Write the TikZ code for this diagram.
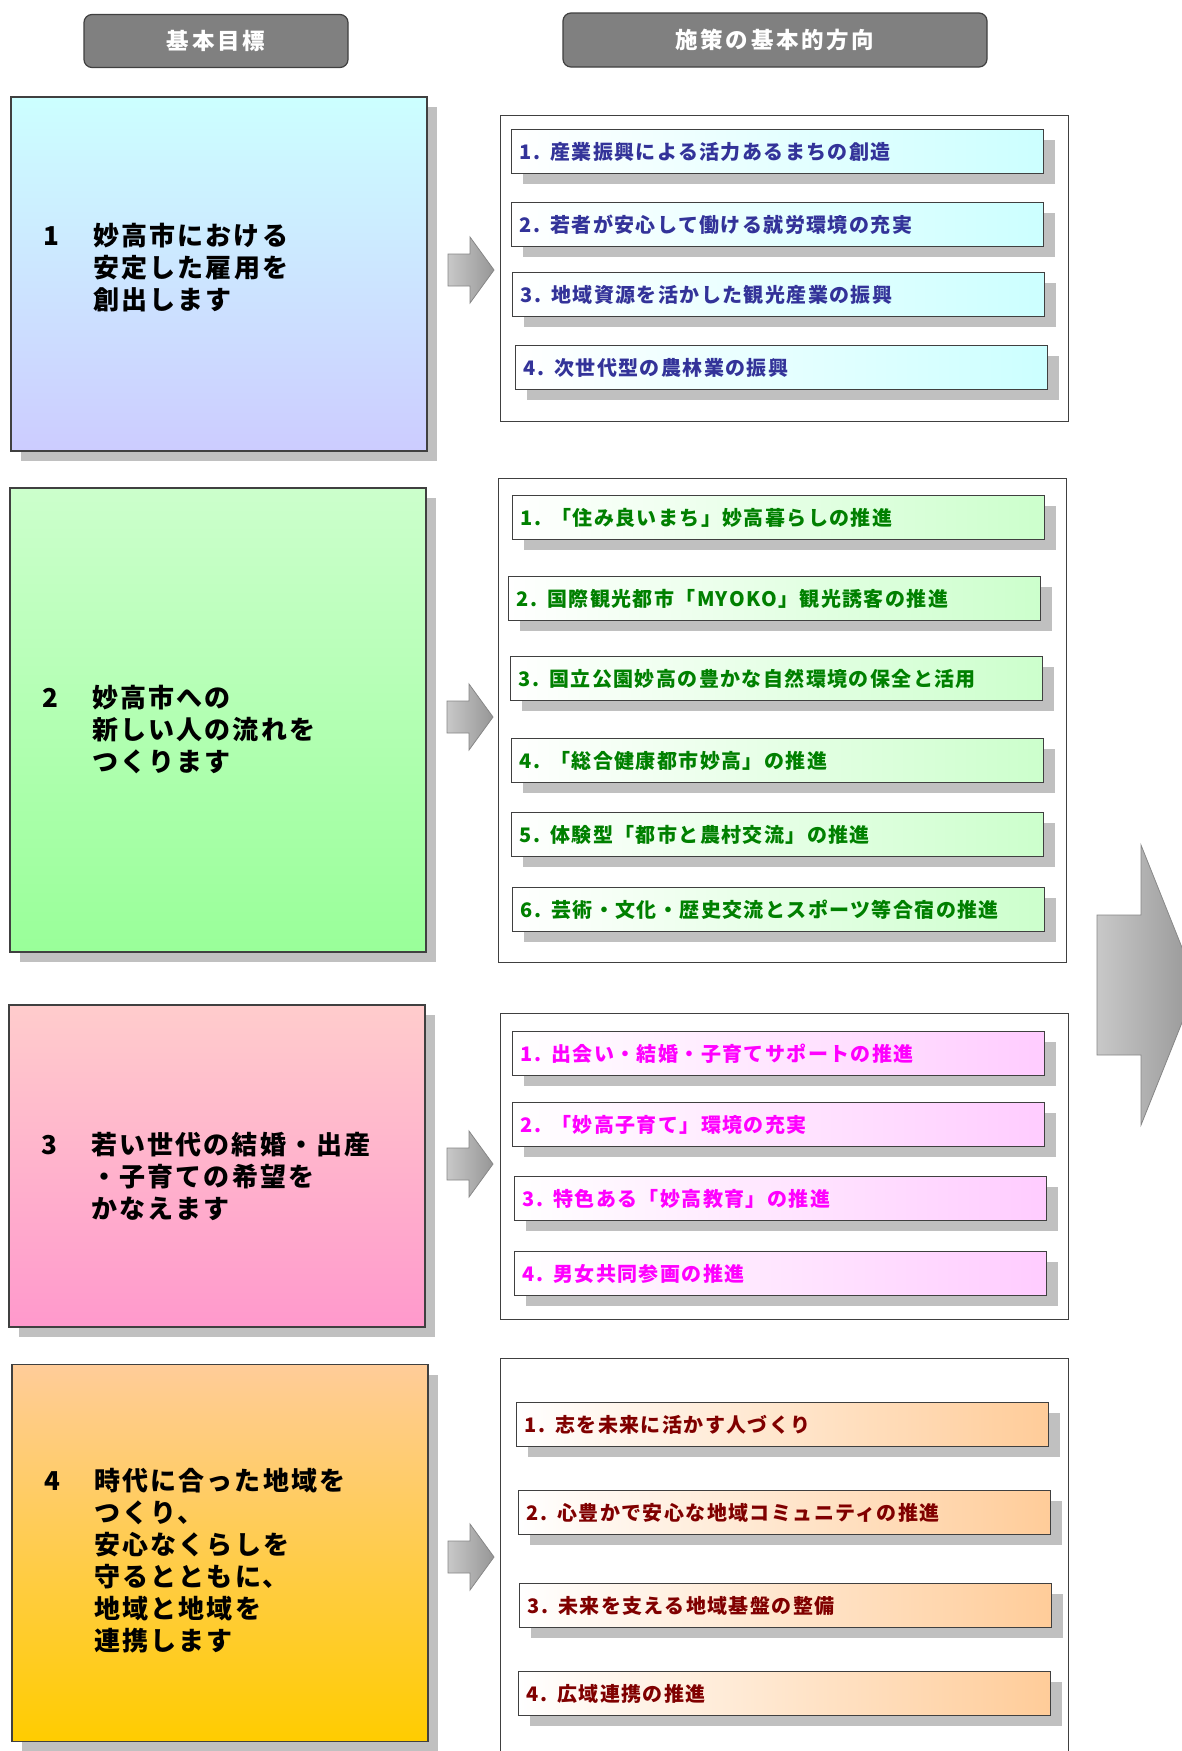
\documentclass[tikz,border=0pt]{standalone}
\usepackage{fontspec}
\setmainfont{Noto Sans CJK JP}
\usepackage{tikz}
\usepackage{xcolor}
\usetikzlibrary{shadows}
\definecolor{framegray}{RGB}{64, 64, 64}
\definecolor{shadowgray}{RGB}{192, 192, 192}
\definecolor{headgray}{RGB}{128, 128, 128}
\definecolor{arrowlight}{RGB}{200, 200, 200}
\definecolor{arrowdark}{RGB}{150, 150, 150}
\definecolor{arrowedge}{RGB}{135, 135, 135}
\definecolor{textblue}{RGB}{51, 51, 153}
\definecolor{textgreen}{RGB}{0, 128, 0}
\definecolor{textpink}{RGB}{255, 0, 255}
\definecolor{textbrown}{RGB}{128, 0, 0}
\definecolor{itemblue}{RGB}{204, 255, 255}
\definecolor{itemgreen}{RGB}{204, 255, 204}
\definecolor{itempink}{RGB}{255, 204, 255}
\definecolor{itemorange}{RGB}{255, 204, 153}

\newcommand{\goalfont}{\fontsize{26}{32}\selectfont\bfseries\addfontfeature{LetterSpace=8}}
\newcommand{\itemfont}{\fontsize{20}{23}\selectfont\bfseries\addfontfeature{LetterSpace=7}\spaceskip=0.5pt}
\newcommand{\headfont}{\fontsize{22.5}{26}\selectfont\bfseries\addfontfeature{LetterSpace=12}}
\newcommand{\goallines}[2]{\makebox[50pt][l]{#1}\begin{tabular}[t]{@{}l@{}}#2\end{tabular}}

\tikzset{
    header/.style={draw=framegray, line width=1.2pt, fill=headgray, rounded corners=8pt, text=white, font=\headfont},
    goalbox/.style={draw=framegray, line width=1.2pt, drop shadow={shadow xshift=10pt, shadow yshift=-10pt, fill=shadowgray, opacity=1}, minimum width=416pt},
    goaltext/.style={anchor=west, xshift=33pt, inner sep=0pt, align=left, font=\goalfont},
    dirframe/.style={draw=framegray, line width=1.2pt, fill=white, anchor=north west, minimum width=568pt, inner sep=0pt},
    itembox/.style={draw=framegray, line width=1.2pt, drop shadow={shadow xshift=11pt, shadow yshift=-10pt, fill=shadowgray, opacity=1}, anchor=north west, minimum height=44pt, inner xsep=8pt, text width=516pt, align=left, font=\itemfont, left color=white, right color=#1},
    smallarrow/.pic={\shade[draw=arrowedge, line width=0.8pt, left color=arrowlight, right color=arrowdark] (0,-16) -- (22,-16) -- (22,-33) -- (46,0) -- (22,33) -- (22,16) -- (0,16) -- cycle;},
    bigarrow/.pic={\shade[draw=arrowedge, line width=0.8pt, left color=arrowlight, right color=arrowdark] (0,-70) -- (44,-70) -- (44,-140) -- (100,0) -- (44,140) -- (44,70) -- (0,70) -- cycle;}
}

\begin{document}
\begin{tikzpicture}[x=1pt, y=-1pt]
    \path[use as bounding box, fill=white] (0,0) rectangle (1181,1751);

    % Column headers
    \node[header, minimum width=264pt, minimum height=53pt] (headgoal) at (216,41) {基本目標};
    \node[header, minimum width=424pt, minimum height=54pt] (headdir) at (775,40) {施策の基本的方向};

    % Goal 1
    \node[goalbox, minimum height=354pt, top color=itemblue, bottom color={rgb,255:red,204;green,204;blue,255}] (goal1) at (219,274) {};
    \node[goaltext, yshift=3pt] (goal1text) at (goal1.west) {\goallines{1}{妙高市における\\安定した雇用を\\創出します}};
    \pic at (448,270) {smallarrow};
    \node[dirframe, minimum height=306pt] (dir1) at (500,115) {};
    \node[itembox=itemblue, text=textblue] (b1) at (511,129) {1. 産業振興による活力あるまちの創造};
    \node[itembox=itemblue, text=textblue] (b2) at (511,202) {2. 若者が安心して働ける就労環境の充実};
    \node[itembox=itemblue, text=textblue] (b3) at (512,272) {3. 地域資源を活かした観光産業の振興};
    \node[itembox=itemblue, text=textblue] (b4) at (515,345) {4. 次世代型の農林業の振興};

    % Goal 2
    \node[goalbox, minimum height=464pt, top color=itemgreen, bottom color={rgb,255:red,153;green,255;blue,153}] (goal2) at (218,720) {};
    \node[goaltext, yshift=-13pt] (goal2text) at (goal2.west) {\goallines{2}{妙高市への\\新しい人の流れを\\つくります}};
    \pic at (447,717) {smallarrow};
    \node[dirframe, minimum height=484pt] (dir2) at (498,478) {};
    \node[itembox=itemgreen, text=textgreen] (g1) at (512,495) {1. 「住み良いまち」妙高暮らしの推進};
    \node[itembox=itemgreen, text=textgreen] (g2) at (508,576) {2. 国際観光都市「MYOKO」観光誘客の推進};
    \node[itembox=itemgreen, text=textgreen] (g3) at (510,656) {3. 国立公園妙高の豊かな自然環境の保全と活用};
    \node[itembox=itemgreen, text=textgreen] (g4) at (511,738) {4. 「総合健康都市妙高」の推進};
    \node[itembox=itemgreen, text=textgreen] (g5) at (511,812) {5. 体験型「都市と農村交流」の推進};
    \node[itembox=itemgreen, text=textgreen] (g6) at (512,887) {6. 芸術・文化・歴史交流とスポーツ等合宿の推進};

    % Goal 3
    \node[goalbox, minimum height=322pt, top color={rgb,255:red,255;green,204;blue,204}, bottom color={rgb,255:red,255;green,153;blue,204}] (goal3) at (217,1166) {};
    \node[goaltext, yshift=-14pt] (goal3text) at (goal3.west) {\goallines{3}{若い世代の結婚・出産\\・子育ての希望を\\かなえます}};
    \pic at (447,1164) {smallarrow};
    \node[dirframe, minimum height=306pt] (dir3) at (500,1013) {};
    \node[itembox=itempink, text=textpink] (p1) at (512,1031) {1. 出会い・結婚・子育てサポートの推進};
    \node[itembox=itempink, text=textpink] (p2) at (512,1102) {2. 「妙高子育て」環境の充実};
    \node[itembox=itempink, text=textpink] (p3) at (514,1176) {3. 特色ある「妙高教育」の推進};
    \node[itembox=itempink, text=textpink] (p4) at (514,1251) {4. 男女共同参画の推進};

    % Goal 4
    \node[goalbox, minimum height=377pt, top color=itemorange, bottom color={rgb,255:red,255;green,204;blue,0}] (goal4) at (220,1553) {};
    \node[goaltext, yshift=-11pt] (goal4text) at (goal4.west) {\goallines{4}{時代に合った地域を\\つくり、\\安心なくらしを\\守るとともに、\\地域と地域を\\連携します}};
    \pic at (448,1557) {smallarrow};
    \node[dirframe, minimum height=400pt] (dir4) at (500,1358) {};
    \node[itembox=itemorange, text=textbrown] (o1) at (516,1402) {1. 志を未来に活かす人づくり};
    \node[itembox=itemorange, text=textbrown] (o2) at (518,1490) {2. 心豊かで安心な地域コミュニティの推進};
    \node[itembox=itemorange, text=textbrown] (o3) at (519,1583) {3. 未来を支える地域基盤の整備};
    \node[itembox=itemorange, text=textbrown] (o4) at (518,1671) {4. 広域連携の推進};

    % Arrow to the next page
    \pic at (1097,985) {bigarrow};
\end{tikzpicture}
\end{document}
